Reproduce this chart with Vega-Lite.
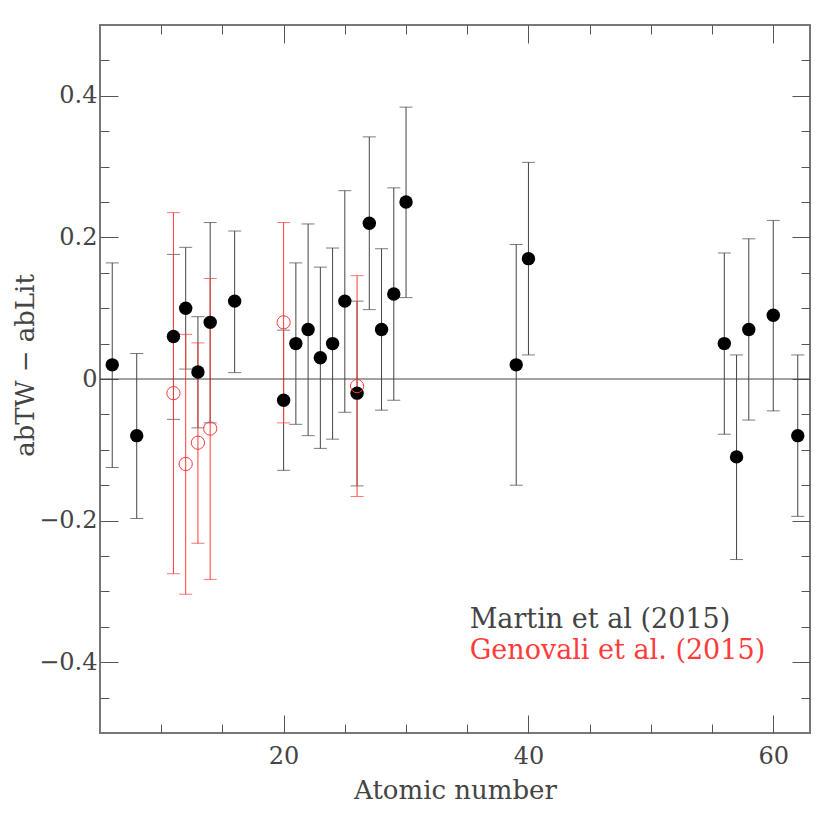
{
  "$schema": "https://vega.github.io/schema/vega-lite/v6.json",
  "autosize": "none",
  "width": 710,
  "height": 708,
  "padding": {"left": 100, "top": 25, "right": 21, "bottom": 86},
  "background": "white",
  "config": {
    "view": {"stroke": "#777", "strokeWidth": 2},
    "axis": {
      "domain": false,
      "grid": false,
      "labelFont": "DejaVu Serif",
      "labelFontSize": 24,
      "labelColor": "#444",
      "titleFont": "DejaVu Serif",
      "titleFontSize": 26,
      "titleFontWeight": "normal",
      "titleColor": "#444",
      "tickColor": "#555",
      "tickWidth": 1
    }
  },
  "datasets": {
    "martin": [
      {"Z": 6, "v": 0.02, "lo": -0.125, "hi": 0.164},
      {"Z": 8, "v": -0.08, "lo": -0.197, "hi": 0.036},
      {"Z": 11, "v": 0.06, "lo": -0.057, "hi": 0.176},
      {"Z": 12, "v": 0.10, "lo": 0.014, "hi": 0.186},
      {"Z": 13, "v": 0.01, "lo": -0.069, "hi": 0.088},
      {"Z": 14, "v": 0.08, "lo": -0.062, "hi": 0.221},
      {"Z": 16, "v": 0.11, "lo": 0.009, "hi": 0.209},
      {"Z": 20, "v": -0.03, "lo": -0.129, "hi": 0.069},
      {"Z": 21, "v": 0.05, "lo": -0.064, "hi": 0.164},
      {"Z": 22, "v": 0.07, "lo": -0.080, "hi": 0.219},
      {"Z": 23, "v": 0.03, "lo": -0.098, "hi": 0.158},
      {"Z": 24, "v": 0.05, "lo": -0.085, "hi": 0.185},
      {"Z": 25, "v": 0.11, "lo": -0.047, "hi": 0.266},
      {"Z": 26, "v": -0.02, "lo": -0.151, "hi": 0.110},
      {"Z": 27, "v": 0.22, "lo": 0.098, "hi": 0.342},
      {"Z": 28, "v": 0.07, "lo": -0.044, "hi": 0.184},
      {"Z": 29, "v": 0.12, "lo": -0.030, "hi": 0.270},
      {"Z": 30, "v": 0.25, "lo": 0.115, "hi": 0.384},
      {"Z": 39, "v": 0.02, "lo": -0.150, "hi": 0.190},
      {"Z": 40, "v": 0.17, "lo": 0.034, "hi": 0.306},
      {"Z": 56, "v": 0.05, "lo": -0.078, "hi": 0.178},
      {"Z": 57, "v": -0.11, "lo": -0.255, "hi": 0.034},
      {"Z": 58, "v": 0.07, "lo": -0.058, "hi": 0.198},
      {"Z": 60, "v": 0.09, "lo": -0.045, "hi": 0.224},
      {"Z": 62, "v": -0.08, "lo": -0.194, "hi": 0.034}
    ],
    "genovali": [
      {"Z": 11, "v": -0.02, "lo": -0.275, "hi": 0.235},
      {"Z": 12, "v": -0.12, "lo": -0.304, "hi": 0.063},
      {"Z": 13, "v": -0.09, "lo": -0.232, "hi": 0.051},
      {"Z": 14, "v": -0.07, "lo": -0.283, "hi": 0.142},
      {"Z": 20, "v": 0.08, "lo": -0.062, "hi": 0.221},
      {"Z": 26, "v": -0.01, "lo": -0.166, "hi": 0.146}
    ],
    "labels": [
      {"label": "Martin et al (2015)", "series": "Martin"},
      {"label": "Genovali et al. (2015)", "series": "Genovali"}
    ]
  },
  "resolve": {"axis": {"x": "independent", "y": "independent"}},
  "layer": [
    {
      "data": {"name": "martin"},
      "mark": {"type": "rule", "color": "#444", "strokeWidth": 1},
      "encoding": {
        "x": {"field": "Z", "type": "quantitative", "scale": {"domain": [5, 63], "nice": false, "zero": false},
          "axis": {"orient": "bottom", "values": [20, 40, 60], "tickSize": -18, "labelPadding": 29, "title": "Atomic number", "titlePadding": 9}},
        "y": {"field": "lo", "type": "quantitative", "scale": {"domain": [-0.5, 0.5], "nice": false, "zero": false},
          "axis": {"orient": "left", "values": [-0.4, -0.2, 0, 0.2, 0.4], "tickSize": -18, "labelPadding": 21,
            "labelExpr": "datum.value == 0 ? '0' : format(datum.value, '.1f')",
            "title": "abTW − abLit", "titleX": -62, "titleY": 340}},
        "y2": {"field": "hi"}
      }
    },
    {
      "data": {"name": "martin"},
      "mark": {"type": "tick", "orient": "horizontal", "size": 13, "thickness": 1, "color": "#444"},
      "encoding": {
        "x": {"field": "Z", "type": "quantitative",
          "axis": {"orient": "bottom", "values": [10, 15, 25, 30, 35, 45, 50, 55], "tickSize": -9, "labels": false, "title": null}},
        "y": {"field": "lo", "type": "quantitative",
          "axis": {"orient": "left", "values": [-0.45, -0.35, -0.3, -0.25, -0.15, -0.1, -0.05, 0.05, 0.1, 0.15, 0.25, 0.3, 0.35, 0.45], "tickSize": -9, "labels": false, "title": null}}
      }
    },
    {
      "data": {"name": "martin"},
      "mark": {"type": "tick", "orient": "horizontal", "size": 13, "thickness": 1, "color": "#444"},
      "encoding": {
        "x": {"field": "Z", "type": "quantitative",
          "axis": {"orient": "top", "values": [20, 40, 60], "tickSize": -18, "labels": false, "title": null}},
        "y": {"field": "hi", "type": "quantitative",
          "axis": {"orient": "right", "values": [-0.4, -0.2, 0, 0.2, 0.4], "tickSize": -18, "labels": false, "title": null}}
      }
    },
    {
      "data": {"name": "genovali"},
      "mark": {"type": "rule", "color": "#ff3b3b", "strokeWidth": 1},
      "encoding": {
        "x": {"field": "Z", "type": "quantitative",
          "axis": {"orient": "top", "values": [10, 15, 25, 30, 35, 45, 50, 55], "tickSize": -9, "labels": false, "title": null}},
        "y": {"field": "lo", "type": "quantitative",
          "axis": {"orient": "right", "values": [-0.45, -0.35, -0.3, -0.25, -0.15, -0.1, -0.05, 0.05, 0.1, 0.15, 0.25, 0.3, 0.35, 0.45], "tickSize": -9, "labels": false, "title": null}},
        "y2": {"field": "hi"}
      }
    },
    {
      "data": {"name": "genovali"},
      "mark": {"type": "tick", "orient": "horizontal", "size": 13, "thickness": 1, "color": "#ff3b3b"},
      "encoding": {
        "x": {"field": "Z", "type": "quantitative", "axis": null},
        "y": {"field": "lo", "type": "quantitative", "axis": null}
      }
    },
    {
      "data": {"name": "genovali"},
      "mark": {"type": "tick", "orient": "horizontal", "size": 13, "thickness": 1, "color": "#ff3b3b"},
      "encoding": {
        "x": {"field": "Z", "type": "quantitative", "axis": null},
        "y": {"field": "hi", "type": "quantitative", "axis": null}
      }
    },
    {
      "data": {"values": [{}]},
      "mark": {"type": "rule", "color": "#444", "strokeWidth": 1},
      "encoding": {
        "y": {"datum": 0, "type": "quantitative", "axis": null}
      }
    },
    {
      "data": {"name": "martin"},
      "mark": {"type": "point", "shape": "circle", "filled": true, "color": "black", "size": 180, "opacity": 1},
      "encoding": {
        "x": {"field": "Z", "type": "quantitative", "axis": null},
        "y": {"field": "v", "type": "quantitative", "axis": null}
      }
    },
    {
      "data": {"name": "genovali"},
      "mark": {"type": "point", "shape": "circle", "filled": false, "color": "#ff3b3b", "strokeWidth": 1, "size": 175, "opacity": 1},
      "encoding": {
        "x": {"field": "Z", "type": "quantitative", "axis": null},
        "y": {"field": "v", "type": "quantitative", "axis": null}
      }
    },
    {
      "data": {"name": "labels"},
      "transform": [{"filter": "datum.series == 'Martin'"}],
      "mark": {"type": "text", "align": "left", "baseline": "alphabetic", "font": "DejaVu Serif", "fontSize": 27, "color": "#444"},
      "encoding": {
        "x": {"datum": 35.2, "type": "quantitative", "axis": null},
        "y": {"datum": -0.352, "type": "quantitative", "axis": null},
        "text": {"field": "label"}
      }
    },
    {
      "data": {"name": "labels"},
      "transform": [{"filter": "datum.series == 'Genovali'"}],
      "mark": {"type": "text", "align": "left", "baseline": "alphabetic", "font": "DejaVu Serif", "fontSize": 27, "color": "#ff3b3b"},
      "encoding": {
        "x": {"datum": 35.2, "type": "quantitative", "axis": null},
        "y": {"datum": -0.395, "type": "quantitative", "axis": null},
        "text": {"field": "label"}
      }
    }
  ]
}
